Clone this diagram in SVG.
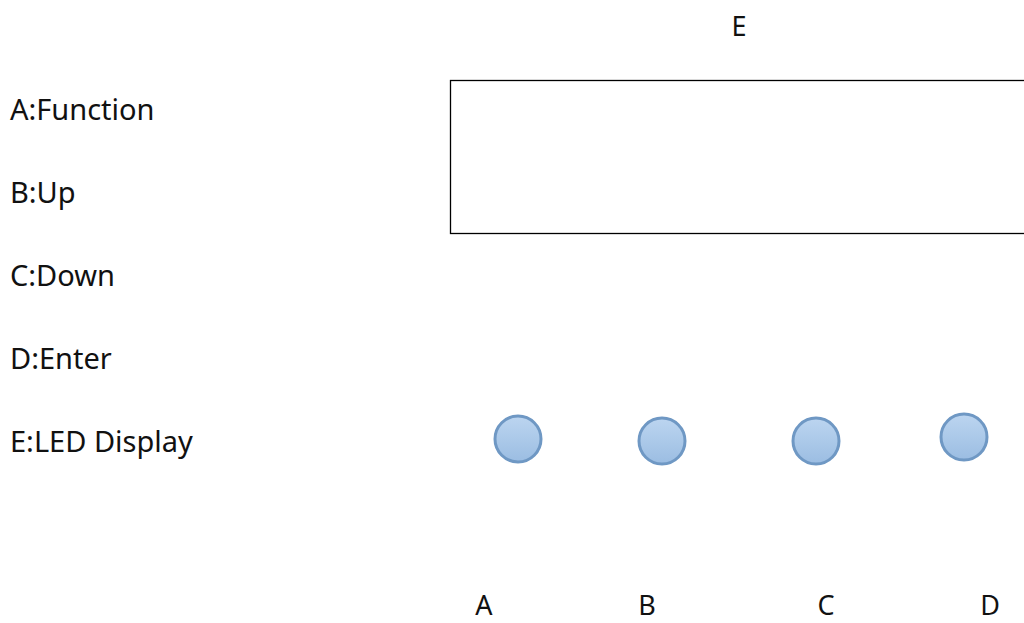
<svg xmlns="http://www.w3.org/2000/svg" width="1024" height="623" viewBox="0 0 1024 623">
<style>
text{font-family:"Noto Sans","Open Sans",sans-serif;font-size:29px;fill:#111}
.lbl{font-size:27px}
.btn{fill:url(#g);stroke:#6f98c4;stroke-width:3}
</style>
<defs>
<linearGradient id="g" x1="0" y1="0" x2="0" y2="1">
<stop offset="0" stop-color="#bcd5f0"/>
<stop offset="1" stop-color="#9bbde2"/>
</linearGradient>
</defs>
<rect width="1024" height="623" fill="#fff"/>
<g id="legend">
<text x="10" y="120">A:Function</text>
<text x="10" y="203">B:Up</text>
<text x="10" y="286">C:Down</text>
<text x="10" y="369">D:Enter</text>
<text x="10" y="452">E:LED Display</text>
</g>
<g id="display">
<rect x="450.5" y="80.5" width="580" height="153" fill="none" stroke="#000" stroke-width="1.3"/>
<text class="lbl" x="739" y="36" text-anchor="middle">E</text>
</g>
<g id="btnA"><circle class="btn" cx="518" cy="439" r="23"/><text class="lbl" x="484" y="615" text-anchor="middle">A</text></g>
<g id="btnB"><circle class="btn" cx="662" cy="441" r="23"/><text class="lbl" x="647" y="615" text-anchor="middle">B</text></g>
<g id="btnC"><circle class="btn" cx="816" cy="441" r="23"/><text class="lbl" x="826" y="615" text-anchor="middle">C</text></g>
<g id="btnD"><circle class="btn" cx="964" cy="437" r="23"/><text class="lbl" x="990" y="615" text-anchor="middle">D</text></g>
<g id="connectors"></g>
</svg>
